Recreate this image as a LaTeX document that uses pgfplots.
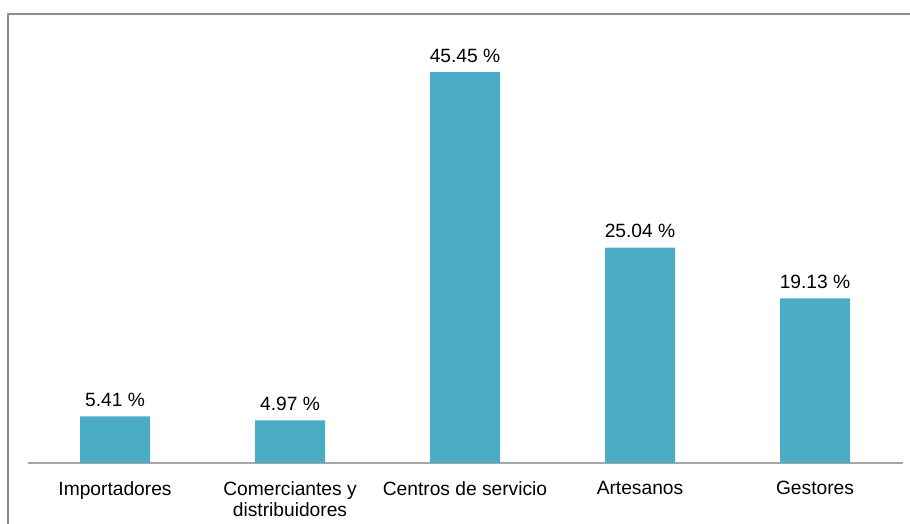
\documentclass[border=0pt]{standalone}
\usepackage{pgfplots}
\pgfplotsset{compat=1.18}
\usepackage{fontspec}
\setmainfont{Liberation Sans}
\definecolor{barc}{HTML}{4BACC6}
\definecolor{framec}{HTML}{8C8C8C}
\definecolor{axc}{HTML}{A6A6A6}
\begin{document}
\begin{tikzpicture}[x=1pt,y=1pt]
\useasboundingbox (0,0) rectangle (682.5,393);
\draw[framec, line width=1.5pt] (6,0) -- (6,382.5) -- (682.5,382.5);
\begin{axis}[
  at={(20.625pt,45.75pt)}, anchor=south west,
  scale only axis, width=656.25pt, height=335.4pt,
  xmin=-0.5, xmax=4.5, ymin=0, ymax=52,
  ybar, bar width=52.5pt, clip=false,
  axis x line*=bottom, hide y axis,
  x axis line style={axc, line width=0.9pt},
  xtick={0,1,2,3,4},
  xticklabels={Importadores,{Comerciantes y\\distribuidores},Centros de servicio,Artesanos,Gestores},
  xticklabel style={align=center, font=\fontsize{14.4}{15.75}\selectfont, text=black, inner sep=0pt, anchor=north, yshift=-13.5pt},
  major tick length=0pt,
  /pgf/number format/assume math mode=true,
  nodes near coords={\pgfmathprintnumber[fixed,fixed zerofill,precision=2]{\pgfplotspointmeta} \%},
  every node near coord/.append style={anchor=base, yshift=7.5pt, inner sep=0pt, font=\fontsize{14.4}{17}\selectfont, text=black},
]
\addplot[fill=barc, draw=none] coordinates {(0,5.41) (1,4.97) (2,45.45) (3,25.04) (4,19.13)};
\end{axis}
\end{tikzpicture}
\end{document}
